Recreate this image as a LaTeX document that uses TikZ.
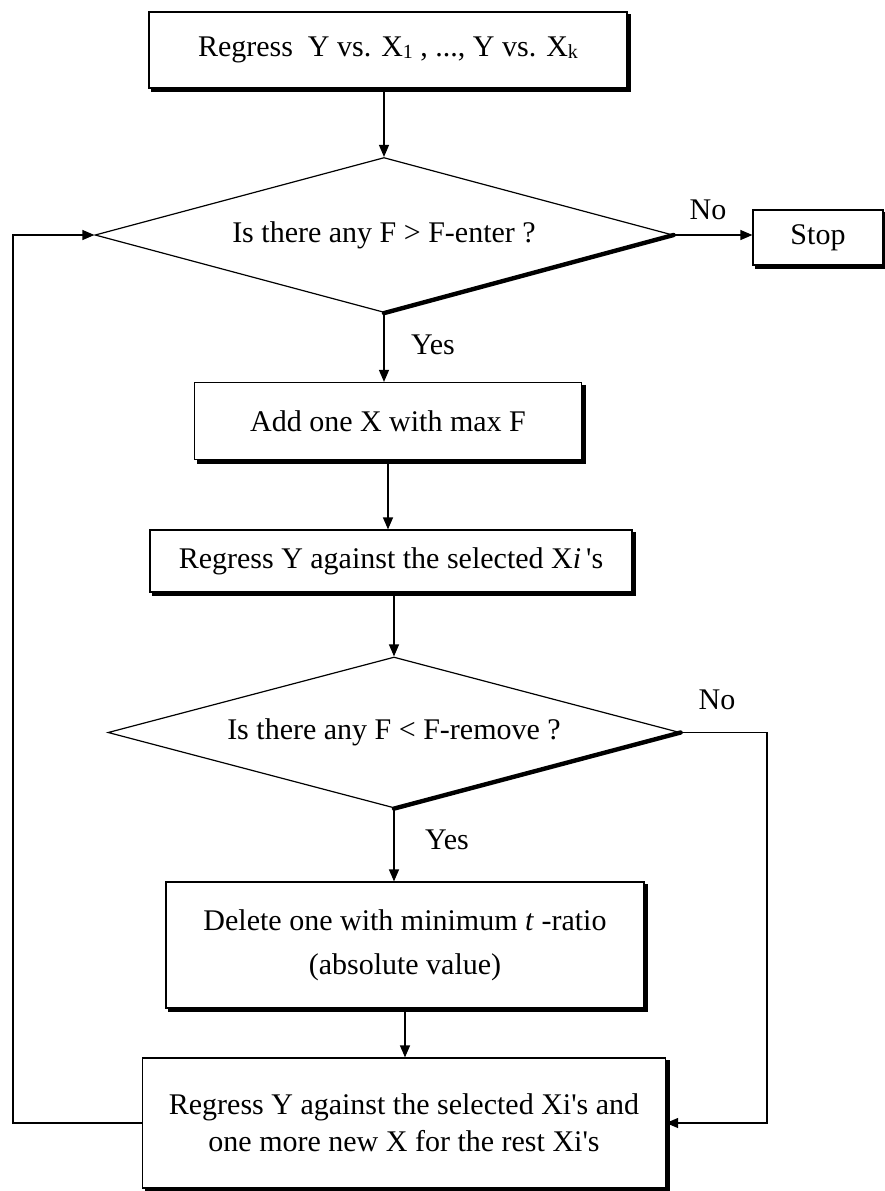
\documentclass[tikz,border=0pt]{standalone}
\usepackage{fontspec}
\setmainfont{Liberation Serif}
\usetikzlibrary{shapes.geometric,arrows.meta}
\newcommand\flowfont{\fontsize{15}{18}\selectfont}
\newcommand\smallidx[1]{\raisebox{-1pt}{\fontsize{10}{10}\selectfont #1}}
\begin{document}
\begin{tikzpicture}[x=0.5pt,y=-0.5pt,
  box/.style={draw, line width=0.6pt, rectangle, inner sep=0pt, align=center, font=\flowfont},
  dec/.style={draw, line width=0.6pt, diamond, inner sep=0pt, font=\flowfont},
  drop/.style={line width=1.6pt},
  link/.style={line width=0.6pt},
  arr/.style={line width=0.6pt, -{Triangle[length=6pt,width=5pt]}},
  lbl/.style={inner sep=0pt, font=\flowfont}]
\useasboundingbox (0,0) rectangle (885,1191);

% process boxes and decisions
\node[box, minimum width=239pt, minimum height=38pt] (b1) at (388,50)
  {Regress\ \ Y vs. X\smallidx{1} , ..., Y vs. X\smallidx{k}};
\node[dec, minimum width=289pt, minimum height=77.5pt, aspect=3.7] (d1) at (384,235)
  {Is there any F > F-enter ?};
\node[box, minimum width=65pt, minimum height=27.5pt] (stop) at (818,237.5) {Stop};
\node[box, minimum width=193.5pt, minimum height=38.5pt] (b2) at (388,421)
  {Add one X with max F};
\node[box, minimum width=241pt, minimum height=31pt] (b3) at (391,561)
  {Regress Y against the selected X\textit{i}\,\textquotesingle s};
\node[dec, minimum width=286pt, minimum height=75.5pt, aspect=3.8] (d2) at (394,732.5)
  {Is there any F < F-remove ?};
\node[box, minimum width=239pt, minimum height=63pt, font=\fontsize{15}{22}\selectfont] (del) at (405,945)
  {Delete one with minimum \textit{t} -ratio\\(absolute value)};
\node[box, minimum width=261.5pt, minimum height=65pt, font=\fontsize{15}{18.5}\selectfont] (bot) at (404,1123)
  {Regress Y against the selected Xi\textquotesingle s and\\one more new X for the rest Xi\textquotesingle s};

% drop shadows on the lower right of the boxes
\foreach \n in {b1,stop,b2,b3,del,bot}{
  \draw[drop] ([xshift=0.9pt,yshift=-1.5pt]\n.north east) -- ([xshift=0.9pt,yshift=-0.9pt]\n.south east)
    -- ([xshift=1.5pt,yshift=-0.9pt]\n.south west);
}
% heavy lower-right edge of the decisions
\draw[line width=2.2pt, line cap=round] (d1.south) -- (d1.east);
\draw[line width=2.2pt, line cap=round] (d2.south) -- (d2.east);

% main flow
\draw[arr] (d1.north |- b1.south) -- (d1.north);
\draw[arr] (d1.east) -- (d1.east -| stop.west);
\draw[arr] (d1.south) -- (d1.south |- b2.north);
\draw[arr] (b2.south) -- (b2.south |- b3.north);
\draw[arr] (d2.north |- b3.south) -- (d2.north);
\draw[arr] (d2.south) -- (d2.south |- del.north);
\draw[arr] (del.south) -- (del.south |- bot.north);

% loops back
\coordinate (lc) at (13,0);
\coordinate (rc) at (767,0);
\draw[arr] (d2.east) -- (d2.east -| rc) |- (bot.east);
\draw[arr] (bot.west) -- (bot.west -| lc) |- (d1.west);

% branch labels
\node[lbl] (no1) at (708,210) {No};
\node[lbl] (yes1) at (433,345) {Yes};
\node[lbl] (no2) at (717,700) {No};
\node[lbl] (yes2) at (447,840) {Yes};
\end{tikzpicture}
\end{document}
